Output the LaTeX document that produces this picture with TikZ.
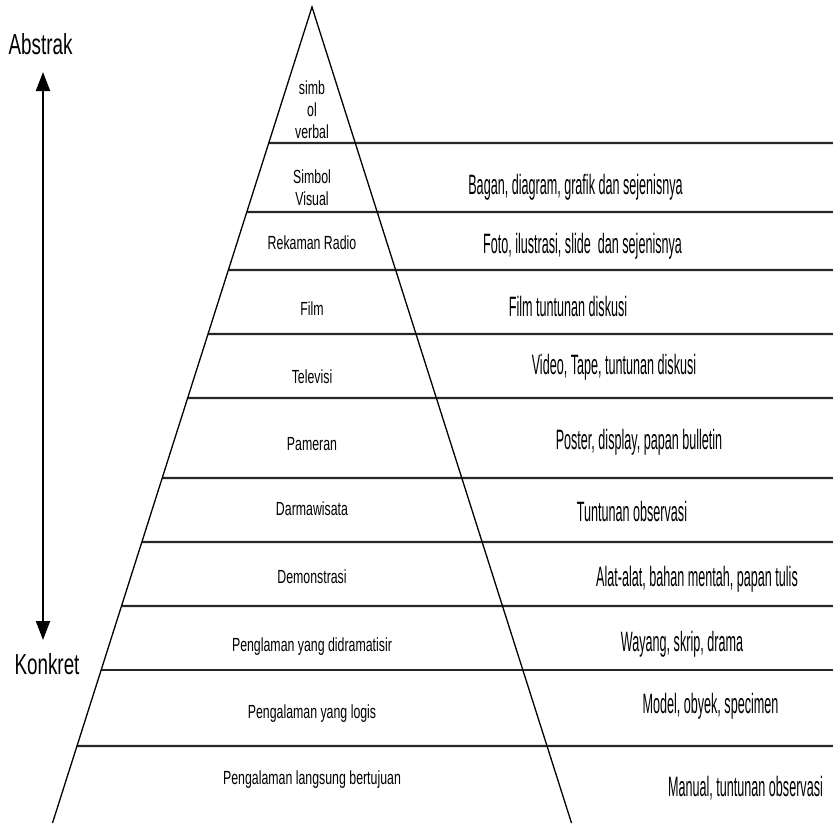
\documentclass[tikz,border=0pt]{standalone}
\usepackage{fontspec}
\setmainfont{Liberation Sans}
\newfontfamily\narrowfont[FakeStretch=0.65]{Liberation Sans}
\newfontfamily\slimfont[FakeStretch=0.45]{Liberation Sans}
\usepackage{tikz}
\usetikzlibrary{arrows.meta,positioning,calc}

\tikzset{
	stage/.style={font=\narrowfont\fontsize{19}{22}\selectfont, inner sep=0pt, align=center},
	stageline/.style={stage, text height=13.6pt, text depth=0pt},
	media/.style={font=\slimfont\fontsize{28}{30}\selectfont, inner sep=0pt, text height=20pt, text depth=0pt},
	pole/.style={font=\narrowfont\fontsize{29}{32}\selectfont, inner sep=0pt, text height=20.8pt, text depth=0pt},
	tier/.style={line width=2.2pt, color=black!85},
	side/.style={line width=1.3pt, color=black},
	axis/.style={line width=2pt, {Triangle[width=14pt,length=19pt]}-{Triangle[width=14pt,length=19pt]}},
}

\begin{document}
\begin{tikzpicture}[x=1pt,y=-1pt]
		\useasboundingbox (0,0) rectangle (833,823);
		
		\coordinate (apex) at (312,7);
		\coordinate (bl) at (52.5,823);
		\coordinate (br) at (571.5,823);
		
		\foreach \y in {143,212,270,334,398,478,542,606,670,746}
		\draw[tier] ($(apex)!{(\y-7)/816}!(bl)$) -- (833,\y);
		
		\draw[side] (bl) -- (apex) -- (br);
		
		\node[pole] (abs) at (40.5,44) {Abstrak};
		\node[pole] (kon) at (47,664) {Konkret};
		\coordinate (hi) at (43,72);
		\coordinate (lo) at (43,640);
		\draw[axis] (lo) -- (hi);
		
		\node[stage] (verbal) at (312,110) {simb\\ol\\verbal};
		\node[stage] (visual) at (312,188) {Simbol\\Visual};
		\node[stageline] (radio) at (312,243) {Rekaman Radio};
		\node[stageline] (film) at (312,309) {Film};
		\node[stageline] (tv) at (312,376.5) {Televisi};
		\node[stageline] (pameran) at (312,443.7) {Pameran};
		\node[stageline] (wisata) at (312,509) {Darmawisata};
		\node[stageline] (demo) at (312,577) {Demonstrasi};
		\node[stageline] (drama) at (312,645) {Penglaman yang didramatisir};
		\node[stageline] (logis) at (312,711.5) {Pengalaman yang logis};
		\node[stageline] (langsung) at (312,778) {Pengalaman langsung bertujuan};
		
		\node[media] (bagan) at (575.5,184) {Bagan, diagram, grafik dan sejenisnya};
		\node[media] (foto) at (582.5,243.5) {Foto, ilustrasi, slide\ \ dan sejenisnya};
		\node[media] (filmd) at (568,306) {Film tuntunan diskusi};
		\node[media] (video) at (614,364.5) {Video, Tape, tuntunan diskusi};
		\node[media] (poster) at (639,439) {Poster, display, papan bulletin};
		\node[media] (observasi) at (632,511) {Tuntunan observasi};
		\node[media] (alat) at (697,576) {Alat-alat, bahan mentah, papan tulis};
		\node[media] (wayang) at (682,641) {Wayang, skrip, drama};
		\node[media] (model) at (710.5,703) {Model, obyek, specimen};
		\node[media] (manual) at (745.5,786) {Manual, tuntunan observasi};
		
\end{tikzpicture}
\end{document}
